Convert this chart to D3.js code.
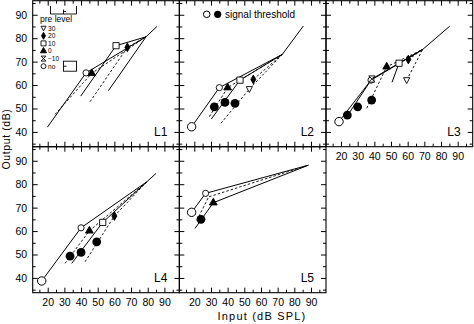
<!DOCTYPE html>
<html>
<head>
<meta charset="utf-8">
<script src="https://cdn.jsdelivr.net/npm/d3@7"></script>
<style>
  body { margin: 0; background: #fff; }
  svg { display: block; }
  text { font-family: "Liberation Sans", Arial, sans-serif; fill: #000; }
</style>
</head>
<body>
<svg id="chart" width="474" height="324"></svg>
<script>
// ---------- data ----------
const inputTicks = [20, 30, 40, 50, 60, 70, 80, 90];
const outputTicks = [40, 50, 60, 70, 80, 90];
const listeners = ["L1", "L2", "L3", "L4", "L5"];
const precursorLevels = ["30", "20", "10", "0", "-10", "no"];
const precursorLabels = ["30", "20", "10", "0", "\u221210", "no"];

// input/output functions: precursor level, [input dB SPL, output dB] points, index of the knee symbol
const L1_curves = [
  { level: "no",  pts: [[19.8, 42.0], [43.0, 65.2], [79.0, 80.6], [85.5, 85.0]], knee: 1 },
  { level: "0",   pts: [[24.4, 47.5], [46.4, 65.0], [79.0, 80.6]], knee: 1 },
  { level: "10",  pts: [[39.8, 55.3], [61.0, 76.8], [79.0, 80.6]], knee: 1 },
  { level: "20",  pts: [[45.4, 52.9], [67.8, 76.1], [79.0, 80.6]], knee: 1 },
  { level: "-10", pts: [[56.4, 57.6], [79.0, 80.6]], knee: null }
];
const L2_curves = [
  { level: "no",  pts: [[18.4, 42.2], [35.0, 58.9], [72.8, 73.1], [85.4, 85.2]], knee: 1 },
  { level: "0",   pts: [[29.0, 46.5], [40.0, 58.9], [72.8, 73.1]], knee: 1 },
  { level: "10",  pts: [[30.2, 45.5], [47.4, 62.1], [72.8, 73.1]], knee: 1 },
  { level: "30",  pts: [[36.0, 43.7], [53.0, 58.3], [72.8, 73.1]], knee: 1 },
  { level: "20",  pts: [[55.4, 62.4], [72.8, 73.1]], knee: 0 }
];
const L3_curves = [
  { level: "no",  pts: [[18.8, 44.4], [38.0, 62.1], [69.0, 75.2], [85.2, 85.1]], knee: 1 },
  { level: "-10", pts: [[22.5, 45.5], [38.5, 62.6], [69.0, 75.2]], knee: 1 },
  { level: "0",   pts: [[35.4, 50.1], [47.4, 67.8], [69.0, 75.2]], knee: 1 },
  { level: "10",  pts: [[50.6, 61.2], [54.8, 69.3], [69.0, 75.2]], knee: 1 },
  { level: "20",  pts: [[60.4, 70.9], [69.0, 75.2]], knee: 0 },
  { level: "30",  pts: [[59.4, 62.1], [69.0, 75.2]], knee: 0 }
];
const L4_curves = [
  { level: "no",  pts: [[16.4, 38.7], [40.0, 61.4], [79.4, 81.0], [85.0, 84.6]], knee: 1 },
  { level: "0",   pts: [[30.4, 46.2], [45.0, 60.1], [79.4, 81.0]], knee: 1 },
  { level: "10",  pts: [[34.4, 46.2], [53.0, 63.7], [79.4, 81.0]], knee: 1 },
  { level: "20",  pts: [[42.4, 46.9], [60.0, 66.4], [79.4, 81.0]], knee: 1 }
];
const L5_curves = [
  { level: "no",  pts: [[18.4, 68.0], [26.8, 76.1], [88.4, 88.1]], knee: 1 },
  { level: "-10", pts: [[21.5, 64.5], [28.6, 74.6], [88.4, 88.1]], knee: null },
  { level: "0",   pts: [[20.4, 61.1], [31.4, 72.1], [88.4, 88.1]], knee: 1 }
];

// signal thresholds: without precursor (open) and with precursor (filled)
const L2_thresholdNo = [[18.4, 42.2]];
const L2_thresholdPre = [[32.0, 50.7], [38.4, 52.6], [44.4, 52.2]];
const L3_thresholdNo = [[18.8, 44.4]];
const L3_thresholdPre = [[23.8, 47.2], [30.0, 50.7], [38.4, 53.6]];
const L4_thresholdNo = [[16.4, 38.7]];
const L4_thresholdPre = [[33.4, 49.3], [40.0, 50.9], [49.4, 55.4]];
const L5_thresholdNo = [[18.4, 68.0]];
const L5_thresholdPre = [[24.0, 65.0]];

// ---------- drawing ----------
const panelCurves = { L1: L1_curves, L2: L2_curves, L3: L3_curves, L4: L4_curves, L5: L5_curves };
const panelThrNo = { L1: [], L2: L2_thresholdNo, L3: L3_thresholdNo, L4: L4_thresholdNo, L5: L5_thresholdNo };
const panelThrPre = { L1: [], L2: L2_thresholdPre, L3: L3_thresholdPre, L4: L4_thresholdPre, L5: L5_thresholdPre };
// which curves of each panel are drawn dotted
const dottedCurves = { L1: [1, 3], L2: [1, 3, 4], L3: [2, 4, 5], L4: [1, 3], L5: [1] };

const svg = d3.select("#chart");
const colX = [32.7, 179.3, 326.0];
const rowY = [0.7, 146.7];
const pw = 146.7, ph = 146.0;
const slot = { L1: [0, 0], L2: [1, 0], L3: [2, 0], L4: [0, 1], L5: [1, 1] };
const xDomain = [11, 99], yDomain = [33.7, 96];
const minorX = [15, 25, 35, 45, 55, 65, 75, 85, 95];
const minorY = [35, 45, 55, 65, 75, 85, 95];

function markerPath(level, k = 1) {
  const s = 3.1 * k;
  switch (level) {
    case "no": return d3.symbol(d3.symbolCircle, 30 * k * k)();
    case "0": return d3.symbol(d3.symbolTriangle, 26 * k * k)();
    case "10": return `M${-s},${-s}H${s}V${s}H${-s}Z`;
    case "20": return d3.symbol(d3.symbolDiamond, 22 * k * k)();
    case "30": return `M${-s},${-s * 0.8}H${s}L0,${s * 1.1}Z`;
    case "-10": return `M${-s},${-s}H${s}L${-s},${s}H${s}Z`;
  }
}
const filledLevels = new Set(["0", "20"]);

function drawMarker(g, level, x, y, k = 1) {
  g.append("path")
    .attr("d", markerPath(level, k))
    .attr("transform", `translate(${x},${y})`)
    .attr("fill", filledLevels.has(level) ? "#000" : "#fff")
    .attr("stroke", "#000").attr("stroke-width", 0.9);
}

listeners.forEach(name => {
  const [c, r] = slot[name];
  const x = d3.scaleLinear().domain(xDomain).range([colX[c], colX[c] + pw]);
  const y = d3.scaleLinear().domain(yDomain).range([rowY[r] + ph, rowY[r]]);
  const g = svg.append("g");

  // frame
  g.append("rect")
    .attr("x", colX[c]).attr("y", rowY[r]).attr("width", pw).attr("height", ph)
    .attr("fill", "none").attr("stroke", "#000").attr("stroke-width", 1.1);

  // inward ticks on all four sides
  const showX = (name === "L3" || name === "L4" || name === "L5");
  const showY = (name === "L1" || name === "L4");
  const ax = [
    [d3.axisBottom(x).tickValues(inputTicks).tickSize(-5).tickPadding(5.5).tickFormat(showX ? d3.format("d") : () => ""), rowY[r] + ph],
    [d3.axisBottom(x).tickValues(minorX).tickSize(-3).tickFormat(() => ""), rowY[r] + ph],
    [d3.axisTop(x).tickValues(inputTicks).tickSize(-5).tickFormat(() => ""), rowY[r]],
    [d3.axisTop(x).tickValues(minorX).tickSize(-3).tickFormat(() => ""), rowY[r]]
  ];
  ax.forEach(([a, ty]) => {
    const ag = g.append("g").attr("transform", `translate(0,${ty})`).call(a);
    ag.select(".domain").remove();
    ag.selectAll("line").attr("stroke-width", 1);
    ag.selectAll("text").attr("font-size", 10.5).attr("font-family", "Liberation Sans, Arial, sans-serif");
  });
  const ay = [
    [d3.axisLeft(y).tickValues(outputTicks).tickSize(-5).tickPadding(5.5).tickFormat(showY ? d3.format("d") : () => ""), colX[c]],
    [d3.axisLeft(y).tickValues(minorY).tickSize(-3).tickFormat(() => ""), colX[c]],
    [d3.axisRight(y).tickValues(outputTicks).tickSize(-5).tickFormat(() => ""), colX[c] + pw],
    [d3.axisRight(y).tickValues(minorY).tickSize(-3).tickFormat(() => ""), colX[c] + pw]
  ];
  ay.forEach(([a, tx]) => {
    const ag = g.append("g").attr("transform", `translate(${tx},0)`).call(a);
    ag.select(".domain").remove();
    ag.selectAll("line").attr("stroke-width", 1);
    ag.selectAll("text").attr("font-size", 10.5).attr("font-family", "Liberation Sans, Arial, sans-serif");
  });

  // I/O functions
  const line = d3.line().x(d => x(d[0])).y(d => y(d[1]));
  const curves = panelCurves[name];
  curves.forEach((cv, i) => {
    const dotted = dottedCurves[name].includes(i);
    g.append("path")
      .attr("d", line(cv.pts))
      .attr("fill", "none").attr("stroke", "#000")
      .attr("stroke-width", dotted ? 0.9 : 1)
      .attr("stroke-dasharray", dotted ? "2.5,2" : null);
  });

  // signal thresholds
  panelThrPre[name].forEach(p => {
    g.append("circle").attr("cx", x(p[0])).attr("cy", y(p[1])).attr("r", 4.4).attr("fill", "#000");
  });
  panelThrNo[name].forEach(p => {
    g.append("circle").attr("cx", x(p[0])).attr("cy", y(p[1])).attr("r", 4.2)
      .attr("fill", "#fff").attr("stroke", "#000").attr("stroke-width", 1);
  });

  // knee symbols
  curves.forEach(cv => {
    if (cv.knee === null) return;
    const p = cv.pts[cv.knee];
    drawMarker(g, cv.level, x(p[0]), y(p[1]));
  });

  // listener label
  g.append("text")
    .attr("x", colX[c] + pw - 12).attr("y", rowY[r] + ph - 11)
    .attr("text-anchor", "end").attr("font-size", 12).text(name);

  // precursor legend (first panel)
  if (name === "L1") {
    const lg = svg.append("g");
    lg.append("path").attr("d", "M50.5,6V14H76.5V6M63.5,9.5V14M63.5,11.5H66")
      .attr("fill", "none").attr("stroke", "#000").attr("stroke-width", 0.9);
    lg.append("text").attr("x", 40).attr("y", 22).attr("font-size", 8.5).text("pre level");
    const rowsY = [28.2, 35.8, 43.4, 51, 58.6, 66.2];
    precursorLevels.forEach((lv, i) => {
      drawMarker(lg, lv, 43.5, rowsY[i], 0.8);
      lg.append("text").attr("x", 48).attr("y", rowsY[i] + 2.4).attr("font-size", 6.6).text(precursorLabels[i]);
    });
    lg.append("rect").attr("x", 63.5).attr("y", 61.2).attr("width", 13).attr("height", 10)
      .attr("fill", "#fff").attr("stroke", "#000").attr("stroke-width", 0.9);
    lg.append("path").attr("d", "M64,66.2H66.5").attr("stroke", "#000").attr("stroke-width", 0.9);
  }
  // threshold legend (second panel)
  if (name === "L2") {
    g.append("circle").attr("cx", 206.7).attr("cy", 14.3).attr("r", 3.3)
      .attr("fill", "#fff").attr("stroke", "#000").attr("stroke-width", 1);
    g.append("circle").attr("cx", 217.7).attr("cy", 14.3).attr("r", 3.6).attr("fill", "#000");
    g.append("text").attr("x", 225).attr("y", 18).attr("font-size", 10)
      .attr("font-family", "DejaVu Sans, sans-serif").text("signal threshold");
  }
});

// axis titles
svg.append("text")
  .attr("x", 262).attr("y", 320)
  .attr("text-anchor", "middle").attr("font-size", 11).attr("letter-spacing", 1.2)
  .attr("font-family", "DejaVu Sans, sans-serif")
  .text("Input (dB SPL)");
svg.append("text")
  .attr("transform", "translate(10,139) rotate(-90)")
  .attr("text-anchor", "middle").attr("font-size", 10.5).attr("letter-spacing", 0.6)
  .attr("font-family", "DejaVu Sans, sans-serif")
  .text("Output (dB)");
</script>
</body>
</html>
